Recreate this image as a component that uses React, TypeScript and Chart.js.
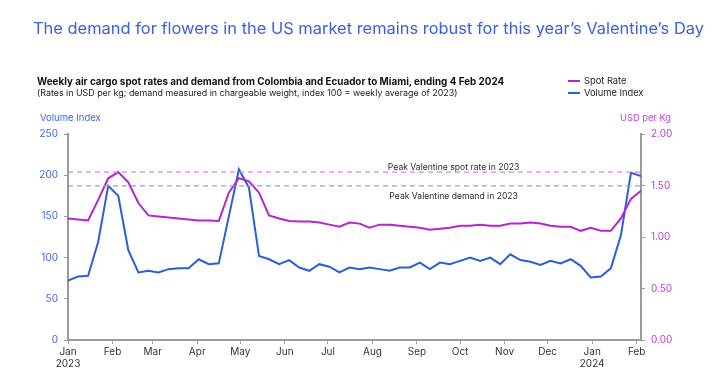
import React, { useEffect, useRef } from "react";
import { Chart, registerables } from "chart.js";

Chart.register(...registerables);

const weekEnding = [
  "2023-01-01", "2023-01-08", "2023-01-15", "2023-01-22", "2023-01-29",
  "2023-02-05", "2023-02-12", "2023-02-19", "2023-02-26",
  "2023-03-05", "2023-03-12", "2023-03-19", "2023-03-26",
  "2023-04-02", "2023-04-09", "2023-04-16", "2023-04-23", "2023-04-30",
  "2023-05-07", "2023-05-14", "2023-05-21", "2023-05-28",
  "2023-06-04", "2023-06-11", "2023-06-18", "2023-06-25",
  "2023-07-02", "2023-07-09", "2023-07-16", "2023-07-23", "2023-07-30",
  "2023-08-06", "2023-08-13", "2023-08-20", "2023-08-27",
  "2023-09-03", "2023-09-10", "2023-09-17", "2023-09-24",
  "2023-10-01", "2023-10-08", "2023-10-15", "2023-10-22", "2023-10-29",
  "2023-11-05", "2023-11-12", "2023-11-19", "2023-11-26",
  "2023-12-03", "2023-12-10", "2023-12-17", "2023-12-24", "2023-12-31",
  "2024-01-07", "2024-01-14", "2024-01-21", "2024-01-28",
  "2024-02-04",
];

const volumeIndex = [
  72, 77, 78, 119, 187, 175, 109, 82, 84, 82,
  86, 87, 87, 98, 92, 93, 150, 207, 185, 102,
  98, 92, 97, 88, 84, 92, 89, 82, 88, 86,
  88, 86, 84, 88, 88, 94, 86, 94, 92, 96,
  100, 96, 100, 92, 104, 97, 95, 91, 96, 93,
  98, 90, 76, 77, 87, 127, 203, 199,
];

const spotRate = [
  1.18, 1.17, 1.16, 1.36, 1.57, 1.63, 1.53, 1.33, 1.21, 1.20,
  1.19, 1.18, 1.17, 1.16, 1.16, 1.155, 1.43, 1.57, 1.54, 1.43,
  1.21, 1.18, 1.155, 1.15, 1.15, 1.14, 1.12, 1.10, 1.14, 1.13,
  1.09, 1.12, 1.12, 1.11, 1.10, 1.09, 1.07, 1.08, 1.09, 1.11,
  1.11, 1.12, 1.11, 1.11, 1.13, 1.13, 1.14, 1.13, 1.11, 1.10,
  1.10, 1.06, 1.09, 1.06, 1.06, 1.18, 1.37, 1.45,
];

const monthTickDates = [
  "2023-01-01", "2023-02-01", "2023-03-01", "2023-04-01", "2023-05-01",
  "2023-06-01", "2023-07-01", "2023-08-01", "2023-09-01", "2023-10-01",
  "2023-11-01", "2023-12-01", "2024-01-01", "2024-02-01",
];
const monthTickLabels: (string | string[])[] = [
  ["Jan", "2023"], "Feb", "Mar", "Apr", "May", "Jun", "Jul", "Aug", "Sep",
  "Oct", "Nov", "Dec", ["Jan", "2024"], "Feb",
];

const volumeTicks = [0, 50, 100, 150, 200, 250];
const rateTicks = [0, 0.5, 1.0, 1.5, 2.0];

const peakDemand2023 = Math.max(...volumeIndex.slice(0, 10));
const peakSpot2023 = Math.max(...spotRate.slice(0, 10));

const START = Date.parse("2023-01-01");
const toDay = (d: string) => Math.round((Date.parse(d) - START) / 86400000);
const xDays = weekEnding.map(toDay);
const tickDays = monthTickDates.map(toDay);
const X_MAX = xDays[xDays.length - 1];

const BLUE = "#2c5ed8";
const MAGENTA = "#b424cf";
const BLUE_TEXT = "#3f66e0";
const MAGENTA_TEXT = "#c040d8";
const FONT = "Inter, 'Noto Sans', sans-serif";

const peakLabels = {
  id: "peakLabels",
  afterDatasetsDraw(chart: any) {
    const { ctx, chartArea, scales } = chart;
    const cx = chartArea.left + 0.673 * (chartArea.right - chartArea.left);
    ctx.save();
    ctx.font = `8.6px ${FONT}`;
    ctx.fillStyle = "#2a2a2a";
    ctx.textAlign = "center";
    ctx.textBaseline = "middle";
    ctx.fillText("Peak Valentine spot rate in 2023", cx, scales.y1.getPixelForValue(peakSpot2023) - 5);
    ctx.fillText("Peak Valentine demand in 2023", cx, scales.y.getPixelForValue(peakDemand2023) + 10);
    ctx.restore();
  },
};

export default function App() {
  const ref = useRef<HTMLCanvasElement>(null);
  useEffect(() => {
    if (!ref.current) return;
    const chart = new Chart(ref.current, {
      type: "line",
      data: {
        datasets: [
          {
            label: "Peak spot",
            data: [{ x: 0, y: peakSpot2023 }, { x: X_MAX, y: peakSpot2023 }],
            yAxisID: "y1",
            borderColor: "#d684e6",
            borderWidth: 1.2,
            borderDash: [5, 4],
            pointRadius: 0,
          },
          {
            label: "Peak demand",
            data: [{ x: 0, y: peakDemand2023 }, { x: X_MAX, y: peakDemand2023 }],
            yAxisID: "y",
            borderColor: "#87a3ea",
            borderWidth: 1.2,
            borderDash: [5, 4],
            pointRadius: 0,
          },
          {
            label: "Spot Rate",
            data: xDays.map((x, i) => ({ x, y: spotRate[i] })),
            yAxisID: "y1",
            borderColor: MAGENTA,
            borderWidth: 2,
            pointRadius: 0,
            tension: 0,
          },
          {
            label: "Volume Index",
            data: xDays.map((x, i) => ({ x, y: volumeIndex[i] })),
            yAxisID: "y",
            borderColor: BLUE,
            borderWidth: 2,
            pointRadius: 0,
            tension: 0,
          },
        ],
      },
      options: {
        animation: false,
        responsive: false,
        maintainAspectRatio: false,
        layout: { padding: { top: 134, left: 0, right: 0, bottom: 0 } },
        plugins: { legend: { display: false }, tooltip: { enabled: false }, title: { display: false } },
        scales: {
          x: {
            type: "linear",
            min: 0,
            max: X_MAX,
            afterFit: (s: any) => { s.height = 41; },
            afterBuildTicks: (s: any) => { s.ticks = tickDays.map((v) => ({ value: v })); },
            ticks: {
              autoSkip: false,
              maxRotation: 0,
              padding: 2,
              color: "#333",
              font: { family: FONT, size: 10 },
              callback: (v: any) => {
                const i = tickDays.indexOf(Number(v));
                return i >= 0 ? monthTickLabels[i] : "";
              },
            },
            grid: { drawOnChartArea: false, drawTicks: true, tickLength: 4, color: "#9a9a9a" },
            border: { display: true, color: "#9a9a9a", width: 2 },
          },
          y: {
            position: "left",
            min: 0,
            max: 250,
            afterFit: (s: any) => { s.width = 68; },
            afterBuildTicks: (s: any) => { s.ticks = volumeTicks.map((v) => ({ value: v })); },
            ticks: { color: BLUE_TEXT, padding: 6, font: { family: FONT, size: 10 } },
            grid: { drawOnChartArea: false, drawTicks: true, tickLength: 4, color: "#9a9a9a" },
            border: { display: true, color: "#9a9a9a", width: 2 },
          },
          y1: {
            position: "right",
            min: 0,
            max: 2,
            afterFit: (s: any) => { s.width = 82; },
            afterBuildTicks: (s: any) => { s.ticks = rateTicks.map((v) => ({ value: v })); },
            ticks: {
              color: MAGENTA_TEXT,
              padding: 6,
              font: { family: FONT, size: 10 },
              callback: (v: any) => Number(v).toFixed(2),
            },
            grid: { drawOnChartArea: false, drawTicks: true, tickLength: 4, color: "#9a9a9a" },
            border: { display: true, color: "#9a9a9a", width: 2 },
          },
        },
      },
      plugins: [peakLabels],
    });
    return () => chart.destroy();
  }, []);

  const abs = (l: number, t: number): React.CSSProperties => ({ position: "absolute", left: l, top: t, whiteSpace: "nowrap", fontFamily: FONT });

  return (
    <div style={{ position: "absolute", left: 0, top: 0, width: 723, height: 381, background: "#fff", overflow: "hidden" }}>
      <canvas ref={ref} width={723} height={381} style={{ position: "absolute", left: 0, top: 0, width: 723, height: 381 }} />
      <div style={{ ...abs(33, 16), fontSize: 16.45, color: "#3a5fe0", lineHeight: "24px" }}>
        The demand for flowers in the US market remains robust for this year’s Valentine’s Day
      </div>
      <div style={{ ...abs(37, 75), fontSize: 9.85, fontWeight: 700, color: "#111", lineHeight: "13px" }}>
        Weekly air cargo spot rates and demand from Colombia and Ecuador to Miami, ending 4 Feb 2024
      </div>
      <div style={{ ...abs(37, 87), fontSize: 8.9, color: "#222", lineHeight: "12px" }}>
        (Rates in USD per kg; demand measured in chargeable weight, index 100 = weekly average of 2023)
      </div>
      <div style={{ ...abs(568, 75), fontSize: 9.3, color: "#222", lineHeight: "12px" }}>
        <div style={{ display: "flex", alignItems: "center", height: 12 }}>
          <span style={{ display: "inline-block", width: 12, height: 2, background: MAGENTA, marginRight: 4 }} />
          Spot Rate
        </div>
        <div style={{ display: "flex", alignItems: "center", height: 12 }}>
          <span style={{ display: "inline-block", width: 12, height: 2, background: BLUE, marginRight: 4 }} />
          Volume Index
        </div>
      </div>
      <div style={{ ...abs(40, 112), fontSize: 9.5, color: BLUE_TEXT, lineHeight: "12px" }}>Volume Index</div>
      <div style={{ ...abs(620, 112), fontSize: 9.3, color: MAGENTA_TEXT, lineHeight: "12px" }}>USD per Kg</div>
    </div>
  );
}
